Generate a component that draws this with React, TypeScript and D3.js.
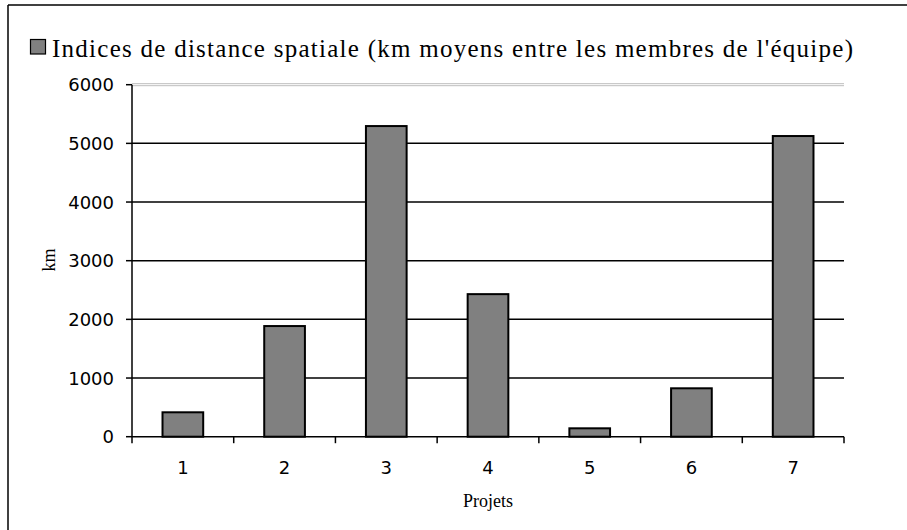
import React from "react";
import * as d3 from "d3";

const categories = ["1", "2", "3", "4", "5", "6", "7"];
const values = [416, 1886, 5295, 2430, 143, 825, 5125];
const yTicks = [0, 1000, 2000, 3000, 4000, 5000, 6000];
const legendLabel = "Indices de distance spatiale (km moyens entre les membres de l'équipe)";
const yTitle = "km";
const xTitle = "Projets";

export default function App() {
  const W = 907, H = 530;
  const left = 132, right = 844, top = 84.7, bottom = 436.7;
  const y = d3.scaleLinear().domain([0, 6000]).range([bottom, top]);
  const xBars = d3.scaleBand<string>().domain(categories).range([left, right]).paddingInner(0.6).paddingOuter(0.3);
  const xCells = d3.scaleBand<string>().domain(categories).range([left, right]).padding(0);
  const tickFont = "'DejaVu Sans', sans-serif";
  const serif = "'Liberation Serif', 'DejaVu Serif', serif";
  const boundaries = [...categories.map((c) => xCells(c) as number), right];

  return (
    <svg width={W} height={H} style={{ position: "absolute", left: 0, top: 0, background: "#fff" }}>
      <rect x={0} y={0} width={W} height={H} fill="#fff" />
      {/* outer border (left & top visible) */}
      <line x1={8} y1={5} x2={8} y2={H} stroke="#000" strokeWidth={1.5} />
      <line x1={8} y1={5} x2={W} y2={5} stroke="#000" strokeWidth={1.5} />

      {/* legend */}
      <rect x={30.5} y={39.5} width={15} height={14.5} fill="#808080" stroke="#000" strokeWidth={1.2} />
      <text x={52} y={57} fontFamily={serif} fontSize={25} fill="#000" textLength={801} lengthAdjust="spacing">
        {legendLabel}
      </text>

      {/* top plot border (grey double) */}
      <line x1={left} x2={right} y1={y(6000) - 1} y2={y(6000) - 1} stroke="#bdbdbd" strokeWidth={1} />
      <line x1={left} x2={right} y1={y(6000) + 1} y2={y(6000) + 1} stroke="#bdbdbd" strokeWidth={1} />

      {/* gridlines */}
      {yTicks.filter((t) => t > 0 && t < 6000).map((t) => (
        <line key={t} x1={left} x2={right} y1={y(t)} y2={y(t)} stroke="#000" strokeWidth={1.5} />
      ))}

      {/* bars */}
      {categories.map((c, i) => (
        <rect
          key={c}
          x={xBars(c)}
          y={y(values[i])}
          width={xBars.bandwidth()}
          height={bottom - y(values[i])}
          fill="#808080"
          stroke="#000"
          strokeWidth={2}
        />
      ))}

      {/* y axis */}
      <line x1={left} x2={left} y1={top} y2={bottom} stroke="#000" strokeWidth={1.5} />
      {yTicks.map((t) => (
        <g key={t}>
          <line x1={left - 6} x2={left} y1={y(t)} y2={y(t)} stroke="#000" strokeWidth={1.5} />
          <text x={114} y={y(t)} dy="0.36em" textAnchor="end" fontFamily={tickFont} fontSize={18} fill="#000">
            {t}
          </text>
        </g>
      ))}

      {/* x axis */}
      <line x1={left} x2={right} y1={bottom} y2={bottom} stroke="#000" strokeWidth={1.5} />
      {boundaries.map((bx, i) => (
        <line key={i} x1={bx} x2={bx} y1={bottom} y2={bottom + 6.5} stroke="#000" strokeWidth={1.5} />
      ))}
      {categories.map((c) => (
        <text
          key={c}
          x={(xCells(c) as number) + xCells.bandwidth() / 2}
          y={473.5}
          textAnchor="middle"
          fontFamily={tickFont}
          fontSize={18}
          fill="#000"
        >
          {c}
        </text>
      ))}

      {/* axis titles */}
      <text x={(left + right) / 2} y={507} textAnchor="middle" fontFamily={serif} fontSize={18} fill="#000">
        {xTitle}
      </text>
      <text
        transform={`translate(55,260) rotate(-90)`}
        textAnchor="middle"
        fontFamily={serif}
        fontSize={18}
        fill="#000"
      >
        {yTitle}
      </text>
    </svg>
  );
}
